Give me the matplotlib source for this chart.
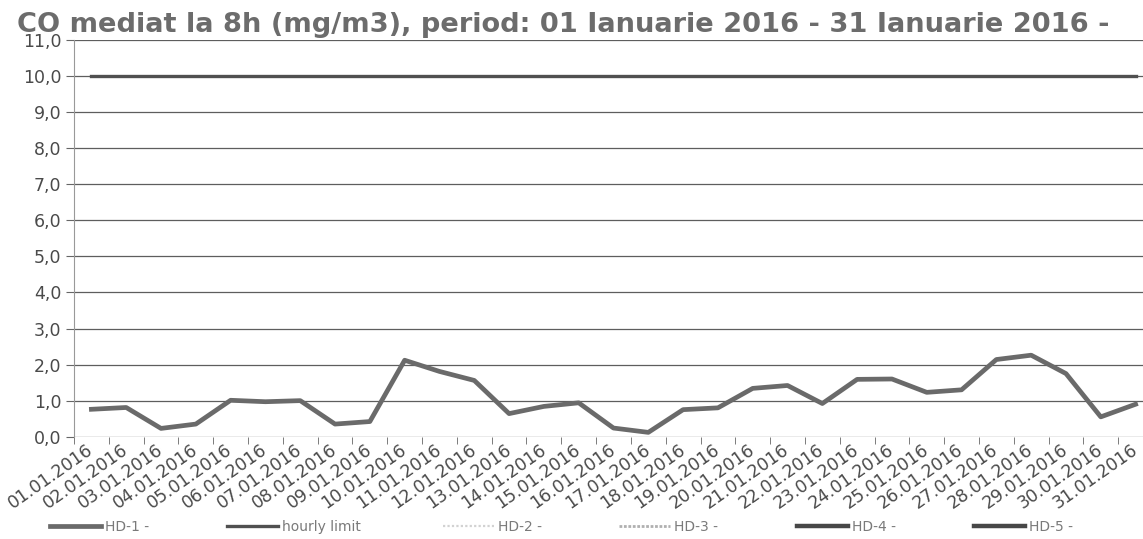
import matplotlib
matplotlib.use("Agg")
import matplotlib.pyplot as plt
import numpy as np
from matplotlib.lines import Line2D

dates = ["%02d.01.2016" % d for d in range(1, 32)]
hd1 = [0.76, 0.81, 0.23, 0.35, 1.01, 0.97, 1.0, 0.35, 0.42, 2.12, 1.81, 1.56,
       0.64, 0.84, 0.94, 0.24, 0.12, 0.75, 0.80, 1.34, 1.42, 0.92, 1.59, 1.60,
       1.23, 1.30, 2.14, 2.26, 1.75, 0.55, 0.90]
hourly_limit = [10.0] * len(dates)
yticks = np.arange(0, 12, 1)
ytick_labels = ["%d,0" % v for v in yticks]
series_names = ["HD-1 -", "hourly limit", "HD-2 -", "HD-3 -", "HD-4 -", "HD-5 -"]
title = "CO mediat la 8h (mg/m3), period: 01 Ianuarie 2016 - 31 Ianuarie 2016 -"

W, H = 1143, 539
fig = plt.figure(figsize=(W / 100, H / 100), dpi=100)
ax = fig.add_axes([74 / W, 1 - 436.7 / H, 1079 / W, (436.7 - 40) / H])

x = np.arange(len(dates))
ax.set_xlim(-0.5, len(dates) - 0.5)
ax.set_ylim(0, 11)

for v in yticks:
    ax.axhline(v, color="#5e5e5e", lw=0.9, zorder=1)

styles = [
    dict(color="#6a6a6a", lw=3.4),
    dict(color="#505050", lw=2.4),
    dict(color="#d2d2d2", lw=1.6, ls=(0, (1, 1))),
    dict(color="#b0b0b0", lw=2.0, ls=(0, (1, 0.6))),
    dict(color="#474747", lw=3.2),
    dict(color="#474747", lw=3.2),
]

ax.plot(x, hd1, zorder=3, solid_joinstyle="round", **styles[0])
ax.plot(x, hourly_limit, zorder=2, **styles[1])

ax.set_yticks(yticks)
ax.set_yticklabels(ytick_labels, fontsize=12.5, color="#4a4a4a",
                   family="DejaVu Sans")
ax.set_xticks(x)
ax.set_xticklabels(dates, rotation=35, ha="right", va="center",
                   rotation_mode="anchor", fontsize=12.5, color="#4a4a4a",
                   family="DejaVu Sans")
ax.set_xticks(np.arange(-0.5, len(dates), 1), minor=True)
ax.tick_params(axis="x", which="major", length=0, pad=8)
ax.tick_params(axis="x", which="minor", length=5, color="#666666")
ax.tick_params(axis="y", length=6, color="#666666", pad=3)

for s in ["top", "right", "bottom"]:
    ax.spines[s].set_visible(False)
ax.spines["left"].set_color("#999999")
ax.spines["left"].set_linewidth(0.8)

# title fitted to the reference width
t = fig.text(17 / W, 1 - 32 / H, title, fontsize=18, color="#6c6c6c",
             family="DejaVu Sans", weight="bold", va="baseline", ha="left")
fig.canvas.draw()
wpx = t.get_window_extent().width
t.set_fontsize(18 * 1100 / wpx)

# legend entries, evenly spaced as in the reference
legend_x = [50, 227, 443, 619, 797, 974]
for name, st, lx in zip(series_names, styles, legend_x):
    h = Line2D([], [], **st)
    lg = fig.legend([h], [name], loc="center left",
                    bbox_to_anchor=(lx / W, 1 - 527 / H), frameon=False,
                    handlelength=3.7, handletextpad=0.25, borderpad=0,
                    borderaxespad=0,
                    prop={"family": "DejaVu Sans", "size": 10})
    for tx in lg.get_texts():
        tx.set_color("#7a7a7a")

fig.savefig("out.png", dpi=100)
